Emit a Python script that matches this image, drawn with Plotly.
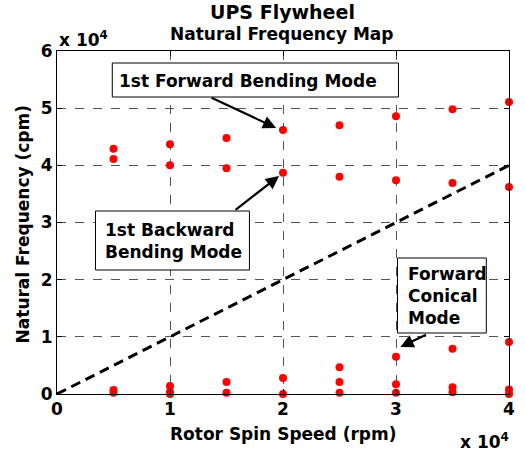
import plotly.graph_objects as go

# ---- data ----
spin_speed = [5000]*4 + [10000]*5 + [15000]*4 + [20000]*4 + [25000]*5 + [30000]*5 + [35000]*5 + [40000]*5
nat_freq = [42900, 41100, 700, 200,
            43700, 40000, 1400, 350, 0,
            44800, 39500, 2100, 200,
            46200, 38700, 2800, 0,
            47000, 38000, 4700, 2100, 200,
            48600, 37400, 6500, 1700, 200,
            49800, 36900, 7900, 1200, 300,
            51100, 36200, 9100, 800, 0]
sync_x = [0, 40000]
sync_y = [0, 40000]
x_ticks = [0, 10000, 20000, 30000, 40000]
x_tick_text = ["0", "1", "2", "3", "4"]
y_ticks = [0, 10000, 20000, 30000, 40000, 50000, 60000]
y_tick_text = ["0", "1", "2", "3", "4", "5", "6"]

W, H = 526, 457
L, R, T, B = 57, 515, 51, 394  # plot area in page pixels
def px(x):
    return (x - L) / (R - L)
def py(y):
    return (B - y) / (B - T)

FONT = "DejaVu Sans, Liberation Sans, Arial, sans-serif"

fig = go.Figure()
fig.add_trace(go.Scatter(x=sync_x, y=sync_y, mode="lines",
                         line=dict(color="black", width=3, dash="10px,6px"),
                         showlegend=False, hoverinfo="skip"))
fig.add_trace(go.Scatter(x=spin_speed, y=nat_freq, mode="markers",
                         marker=dict(color="#ff0000", size=8, line=dict(width=0)),
                         cliponaxis=False, showlegend=False))

axis_common = dict(showline=True, linecolor="black", linewidth=1, mirror="allticks",
                   ticks="inside", ticklen=5, tickcolor="black",
                   showgrid=True, gridcolor="#555555", griddash="dash", gridwidth=1,
                   zeroline=False, ticklabeloverflow="allow",
                   tickfont=dict(family=FONT, size=17, color="black", weight="bold"))

fig.update_layout(
    width=W, height=H,
    margin=dict(l=L, r=W - R, t=T, b=H - B, pad=0),
    paper_bgcolor="white", plot_bgcolor="white",
    xaxis=dict(range=[0, 40000], tickvals=x_ticks, ticktext=x_tick_text, **axis_common),
    yaxis=dict(range=[0, 60000], tickvals=y_ticks, ticktext=y_tick_text, **axis_common),
    showlegend=False,
)

shapes = []
def box(x0, y0, x1, y1):
    shapes.append(dict(type="rect", xref="paper", yref="paper",
                       x0=px(x0), x1=px(x1), y0=py(y1), y1=py(y0),
                       line=dict(color="black", width=1), fillcolor="white", layer="above"))
box(113, 63, 403, 97)
box(96, 211, 252, 270)
box(402, 258, 492, 333)
fig.update_layout(shapes=shapes)

bold = lambda s: dict(family=FONT, size=s, color="black", weight="bold")
ann = []
def text(x, y, t, size, xanchor="center", yanchor="middle", align="center", angle=0):
    ann.append(dict(x=px(x), y=py(y), xref="paper", yref="paper", text=t, showarrow=False,
                    font=bold(size), xanchor=xanchor, yanchor=yanchor, align=align,
                    textangle=angle))

text(285, 11.5, "UPS Flywheel", 19)
text(285, 34, "Natural Frequency Map", 17)
text(57, 39, "x 10<sup>4</sup>", 17, xanchor="left")
text(517, 441, "x 10<sup>4</sup>", 17, xanchor="right")
text(286, 434, "Rotor Spin Speed (rpm)", 17)
text(23, 224, "Natural Frequency (cpm)", 17, angle=-90)
text(251, 81, "1st Forward Bending Mode", 17)
text(104, 241, "1st Backward<br>Bending Mode", 17, xanchor="left", align="left")
text(411, 296, "Forward<br>Conical<br>Mode", 17, xanchor="left", align="left")

def arrow(tail, head):
    hx = (head[0] - L) / (R - L) * 40000
    hy = (B - head[1]) / (B - T) * 60000
    ann.append(dict(x=hx, y=hy, xref="x", yref="y", text="", showarrow=True,
                    ax=tail[0] - head[0], ay=tail[1] - head[1],
                    arrowhead=2, arrowsize=1.2, arrowwidth=2.2, arrowcolor="black"))
arrow((213, 97), (279, 128))
arrow((237, 211), (282, 176))
arrow((432, 334), (405, 347))

fig.update_layout(annotations=ann)
fig.write_html("out.html", config={"displayModeBar": False},
               post_script="document.body.style.margin='0';document.body.style.overflow='hidden';")
